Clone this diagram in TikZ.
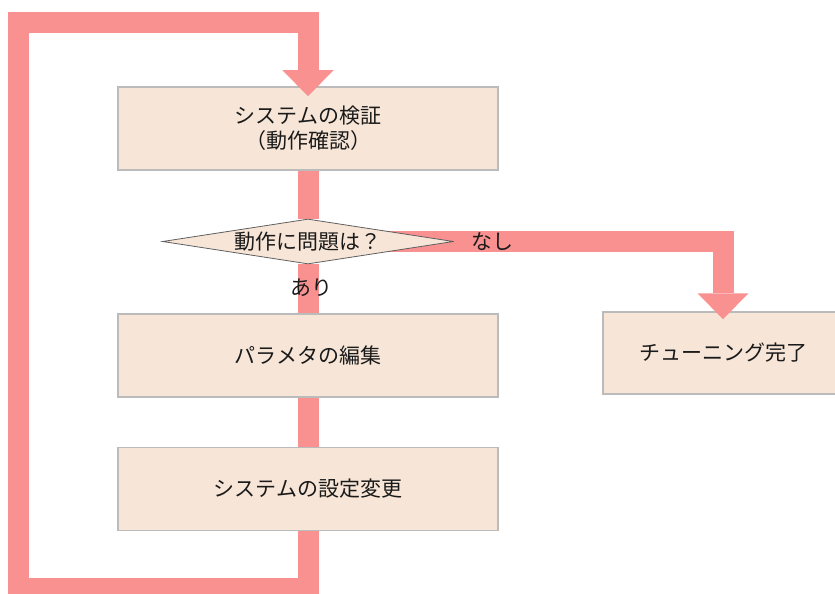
\documentclass[tikz,border=0pt]{standalone}
\usepackage{fontspec}
\setmainfont{Noto Sans CJK JP}
\usetikzlibrary{shapes.geometric,arrows.meta,backgrounds,positioning}

\definecolor{flowpink}{HTML}{F99191}
\definecolor{boxfill}{HTML}{F7E6D8}
\definecolor{boxline}{HTML}{BBBBBB}
\definecolor{textblack}{HTML}{1A1A1A}

\tikzset{
	stepbox/.style={shape=rectangle, draw=boxline, fill=boxfill, line width=1.5pt,
		minimum width=380pt, minimum height=83pt, inner sep=0pt, align=center,
		text=textblack, font=\fontsize{21pt}{25pt}\selectfont},
	decision/.style={shape=diamond, draw=textblack!70, fill=boxfill, line width=0.8pt,
		aspect=6.47, minimum width=291pt, minimum height=45pt, inner sep=0pt,
		text=textblack, font=\fontsize{21pt}{25pt}\selectfont},
	answer/.style={inner sep=0pt, text=textblack, font=\fontsize{21pt}{25pt}\selectfont},
	flow/.style={draw=flowpink, line width=21pt, line join=miter},
	flowtip/.style={-{Triangle[length=26pt,width=51pt,line width=0pt]}}
}

\begin{document}
\begin{tikzpicture}[x=1pt,y=-1pt]
	\useasboundingbox (0,0) rectangle (835,594);

	\node[stepbox] (check) at (308, 128.5)  {システムの検証\\（動作確認）};
	\node[decision] (problem) at (308, 241.5) {動作に問題は？};
	\node[stepbox] (edit) at (308, 355.5)   {パラメタの編集};
	\node[stepbox] (change) at (308, 489)   {システムの設定変更};
	\node[stepbox, minimum width=240pt, minimum height=82pt] (done) at (723, 353) {チューニング完了};

	\coordinate (loopbl) at (18.5, 588.5);
	\coordinate (looptl) at (18.5, 23);

	\begin{scope}[on background layer]
		\path[flow] (check) edge (problem);
		\path[flow] (problem) edge (edit);
		\path[flow] (edit) edge (change);
		\draw[flow] (problem.center) -- (problem.east);
		\draw[flow] (change.center) |- (loopbl) |- (looptl -| check.north);
	\end{scope}

	\draw[flow, flowtip] (problem.east) -| ([yshift=-8pt]done.north);
	\draw[flow, flowtip] (looptl) -| ([yshift=-10pt]check.north);

	\node[answer, right=17pt of problem.east] (no) {なし};
	\node[answer, below=14pt of problem.south, xshift=3pt] (yes) {あり};

\end{tikzpicture}
\end{document}
